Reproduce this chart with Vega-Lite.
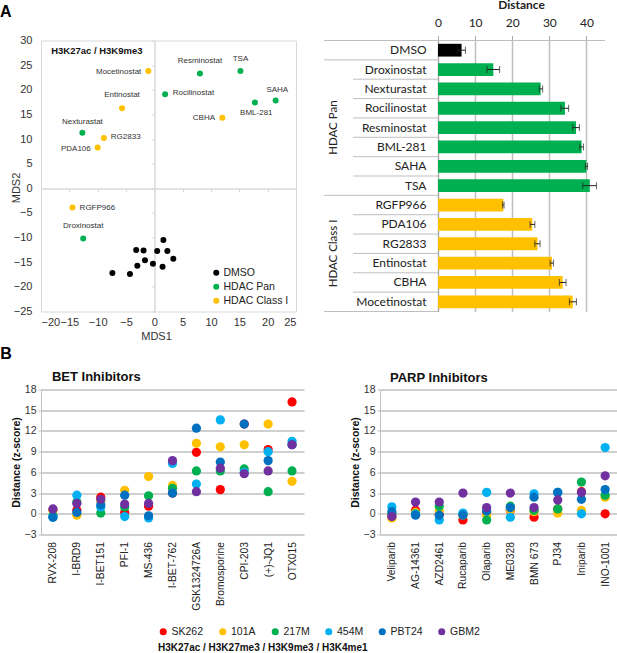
{
  "$schema": "https://vega.github.io/schema/vega-lite/v6.json",
  "autosize": "none",
  "padding": {"left": 41, "top": 40.5, "right": 576, "bottom": 612.5},
  "background": "white",
  "bounds": "flush",
  "columns": 2,
  "align": {"column": "none", "row": "each"},
  "spacing": {"row": 78, "column": 76},
  "resolve": {"scale": {"color": "independent"}, "legend": {"color": "independent"}},
  "config": {
    "font": "Liberation Sans",
    "view": {"stroke": null},
    "axis": {"labelColor": "#333333", "titleColor": "#333333"}
  },
  "datasets": {
    "mds": [
      {"name": "Mocetinostat", "group": "HDAC Class I", "MDS1": -1.05, "MDS2": 23.8},
      {"name": "Resminostat", "group": "HDAC Pan", "MDS1": 8.05, "MDS2": 23.3},
      {"name": "TSA", "group": "HDAC Pan", "MDS1": 15.2, "MDS2": 23.8},
      {"name": "Rocilinostat", "group": "HDAC Pan", "MDS1": 1.9, "MDS2": 19.1},
      {"name": "SAHA", "group": "HDAC Pan", "MDS1": 21.4, "MDS2": 17.8},
      {"name": "BML-281", "group": "HDAC Pan", "MDS1": 17.75, "MDS2": 17.4},
      {"name": "Entinostat", "group": "HDAC Class I", "MDS1": -5.7, "MDS2": 16.25},
      {"name": "CBHA", "group": "HDAC Class I", "MDS1": 12, "MDS2": 14.3},
      {"name": "Nexturastat", "group": "HDAC Pan", "MDS1": -12.7, "MDS2": 11.3},
      {"name": "RG2833", "group": "HDAC Class I", "MDS1": -8.9, "MDS2": 10.2},
      {"name": "PDA106", "group": "HDAC Class I", "MDS1": -10, "MDS2": 8.3},
      {"name": "RGFP966", "group": "HDAC Class I", "MDS1": -14.45, "MDS2": -3.9},
      {"name": "Droxinostat", "group": "HDAC Pan", "MDS1": -12.55, "MDS2": -10.2},
      {"name": "DMSO", "group": "DMSO", "MDS1": 1.6, "MDS2": -10.5},
      {"name": "DMSO", "group": "DMSO", "MDS1": -3.2, "MDS2": -12.5},
      {"name": "DMSO", "group": "DMSO", "MDS1": -1.9, "MDS2": -12.6},
      {"name": "DMSO", "group": "DMSO", "MDS1": 0.5, "MDS2": -12.7},
      {"name": "DMSO", "group": "DMSO", "MDS1": 2.3, "MDS2": -12.7},
      {"name": "DMSO", "group": "DMSO", "MDS1": 3.35, "MDS2": -14.3},
      {"name": "DMSO", "group": "DMSO", "MDS1": -1.65, "MDS2": -14.6},
      {"name": "DMSO", "group": "DMSO", "MDS1": -0.25, "MDS2": -15.3},
      {"name": "DMSO", "group": "DMSO", "MDS1": -3, "MDS2": -15.7},
      {"name": "DMSO", "group": "DMSO", "MDS1": 1.45, "MDS2": -15.9},
      {"name": "DMSO", "group": "DMSO", "MDS1": -7.4, "MDS2": -17.2},
      {"name": "DMSO", "group": "DMSO", "MDS1": -4.3, "MDS2": -17.4}
    ],
    "mdsLabels": [
      {"label": "Mocetinostat", "MDS1": -6.3, "MDS2": 23.7},
      {"label": "Resminostat", "MDS1": 8.05, "MDS2": 25.9},
      {"label": "TSA", "MDS1": 15.2, "MDS2": 26.3},
      {"label": "Rocilinostat", "MDS1": 6.9, "MDS2": 19.3},
      {"label": "SAHA", "MDS1": 21.7, "MDS2": 20},
      {"label": "BML-281", "MDS1": 18, "MDS2": 15.3},
      {"label": "Entinostat", "MDS1": -5.7, "MDS2": 18.9},
      {"label": "CBHA", "MDS1": 8.75, "MDS2": 14.3},
      {"label": "Nexturastat", "MDS1": -12.7, "MDS2": 13.5},
      {"label": "RG2833", "MDS1": -5.05, "MDS2": 10.5},
      {"label": "PDA106", "MDS1": -13.85, "MDS2": 8.05},
      {"label": "RGFP966", "MDS1": -10.05, "MDS2": -3.9},
      {"label": "Droxinostat", "MDS1": -12.55, "MDS2": -7.7}
    ],
    "distance": [
      {"drug": "DMSO", "group": "DMSO", "value": 6.35, "lo": 5.3, "hi": 7.4},
      {"drug": "Droxinostat", "group": "HDAC Pan", "value": 14.9, "lo": 13.2, "hi": 16.6},
      {"drug": "Nexturastat", "group": "HDAC Pan", "value": 27.65, "lo": 27.3, "hi": 28.2},
      {"drug": "Rocilinostat", "group": "HDAC Pan", "value": 34.2, "lo": 33.1, "hi": 35.2},
      {"drug": "Resminostat", "group": "HDAC Pan", "value": 37.2, "lo": 36.3, "hi": 38.1},
      {"drug": "BML-281", "group": "HDAC Pan", "value": 38.7, "lo": 38.2, "hi": 39.2},
      {"drug": "SAHA", "group": "HDAC Pan", "value": 40, "lo": 39.7, "hi": 40.3},
      {"drug": "TSA", "group": "HDAC Pan", "value": 40.9, "lo": 39, "hi": 42.7},
      {"drug": "RGFP966", "group": "HDAC Class I", "value": 17.6, "lo": 17.4, "hi": 17.8},
      {"drug": "PDA106", "group": "HDAC Class I", "value": 25.4, "lo": 24.8, "hi": 26.1},
      {"drug": "RG2833", "group": "HDAC Class I", "value": 26.8, "lo": 26.1, "hi": 27.5},
      {"drug": "Entinostat", "group": "HDAC Class I", "value": 30.7, "lo": 30.2, "hi": 31.1},
      {"drug": "CBHA", "group": "HDAC Class I", "value": 33.6, "lo": 32.7, "hi": 34.5},
      {"drug": "Mocetinostat", "group": "HDAC Class I", "value": 36.3, "lo": 35.4, "hi": 37.3}
    ],
    "separators": [
      {"drug": "DMSO", "from": -30.7, "to": 45},
      {"drug": "Droxinostat", "from": -30.7, "to": 0},
      {"drug": "Nexturastat", "from": -22.9, "to": 0},
      {"drug": "Rocilinostat", "from": -22.9, "to": 0},
      {"drug": "Resminostat", "from": -22.9, "to": 0},
      {"drug": "BML-281", "from": -22.9, "to": 0},
      {"drug": "SAHA", "from": -22.9, "to": 0},
      {"drug": "TSA", "from": -22.9, "to": 0},
      {"drug": "RGFP966", "from": -30.7, "to": 0},
      {"drug": "PDA106", "from": -22.9, "to": 0},
      {"drug": "RG2833", "from": -22.9, "to": 0},
      {"drug": "Entinostat", "from": -22.9, "to": 0},
      {"drug": "CBHA", "from": -22.9, "to": 0},
      {"drug": "Mocetinostat", "from": -22.9, "to": 0}
    ],
    "bet": [
      {"drug": "RVX-208", "line": "SK262", "z": 0.6}, {"drug": "RVX-208", "line": "101A", "z": 0.5}, {"drug": "RVX-208", "line": "217M", "z": -0.3}, {"drug": "RVX-208", "line": "454M", "z": -0.5}, {"drug": "RVX-208", "line": "PBT24", "z": -0.5}, {"drug": "RVX-208", "line": "GBM2", "z": 0.7},
      {"drug": "I-BRD9", "line": "SK262", "z": 0.5}, {"drug": "I-BRD9", "line": "101A", "z": -0.2}, {"drug": "I-BRD9", "line": "217M", "z": 1.7}, {"drug": "I-BRD9", "line": "454M", "z": 2.7}, {"drug": "I-BRD9", "line": "PBT24", "z": 0.2}, {"drug": "I-BRD9", "line": "GBM2", "z": 1.5},
      {"drug": "I-BET151", "line": "SK262", "z": 2.4}, {"drug": "I-BET151", "line": "101A", "z": 1.9}, {"drug": "I-BET151", "line": "217M", "z": 0.1}, {"drug": "I-BET151", "line": "454M", "z": 1}, {"drug": "I-BET151", "line": "PBT24", "z": 1.3}, {"drug": "I-BET151", "line": "GBM2", "z": 2.1},
      {"drug": "PFI-1", "line": "SK262", "z": 0.2}, {"drug": "PFI-1", "line": "101A", "z": 3.4}, {"drug": "PFI-1", "line": "217M", "z": 1}, {"drug": "PFI-1", "line": "454M", "z": -0.4}, {"drug": "PFI-1", "line": "PBT24", "z": 2.7}, {"drug": "PFI-1", "line": "GBM2", "z": 1.4},
      {"drug": "MS-436", "line": "SK262", "z": 1.1}, {"drug": "MS-436", "line": "101A", "z": 5.4}, {"drug": "MS-436", "line": "217M", "z": 2.6}, {"drug": "MS-436", "line": "454M", "z": -0.6}, {"drug": "MS-436", "line": "PBT24", "z": -0.3}, {"drug": "MS-436", "line": "GBM2", "z": 1.5},
      {"drug": "I-BET-762", "line": "SK262", "z": 3}, {"drug": "I-BET-762", "line": "101A", "z": 4.1}, {"drug": "I-BET-762", "line": "217M", "z": 3.7}, {"drug": "I-BET-762", "line": "454M", "z": 7.3}, {"drug": "I-BET-762", "line": "PBT24", "z": 3}, {"drug": "I-BET-762", "line": "GBM2", "z": 7.7},
      {"drug": "GSK1324726A", "line": "SK262", "z": 8.9}, {"drug": "GSK1324726A", "line": "101A", "z": 10.2}, {"drug": "GSK1324726A", "line": "217M", "z": 6.2}, {"drug": "GSK1324726A", "line": "454M", "z": 4.3}, {"drug": "GSK1324726A", "line": "PBT24", "z": 12.4}, {"drug": "GSK1324726A", "line": "GBM2", "z": 3.2},
      {"drug": "Bromosporine", "line": "SK262", "z": 3.5}, {"drug": "Bromosporine", "line": "101A", "z": 9.7}, {"drug": "Bromosporine", "line": "217M", "z": 6.2}, {"drug": "Bromosporine", "line": "454M", "z": 13.6}, {"drug": "Bromosporine", "line": "PBT24", "z": 7.5}, {"drug": "Bromosporine", "line": "GBM2", "z": 6.6},
      {"drug": "CPI-203", "line": "SK262", "z": 13}, {"drug": "CPI-203", "line": "101A", "z": 10}, {"drug": "CPI-203", "line": "217M", "z": 6.5}, {"drug": "CPI-203", "line": "454M", "z": 6}, {"drug": "CPI-203", "line": "PBT24", "z": 13}, {"drug": "CPI-203", "line": "GBM2", "z": 5.8},
      {"drug": "(+)-JQ1", "line": "SK262", "z": 9.3}, {"drug": "(+)-JQ1", "line": "101A", "z": 13}, {"drug": "(+)-JQ1", "line": "217M", "z": 3.2}, {"drug": "(+)-JQ1", "line": "454M", "z": 9}, {"drug": "(+)-JQ1", "line": "PBT24", "z": 7.7}, {"drug": "(+)-JQ1", "line": "GBM2", "z": 6.2},
      {"drug": "OTX015", "line": "SK262", "z": 16.2}, {"drug": "OTX015", "line": "101A", "z": 4.7}, {"drug": "OTX015", "line": "217M", "z": 6.2}, {"drug": "OTX015", "line": "454M", "z": 10.5}, {"drug": "OTX015", "line": "PBT24", "z": 10}, {"drug": "OTX015", "line": "GBM2", "z": 10}
    ],
    "parp": [
      {"drug": "Veliparib", "line": "SK262", "z": -0.4}, {"drug": "Veliparib", "line": "101A", "z": -0.6}, {"drug": "Veliparib", "line": "217M", "z": 0}, {"drug": "Veliparib", "line": "454M", "z": 1}, {"drug": "Veliparib", "line": "PBT24", "z": 0.3}, {"drug": "Veliparib", "line": "GBM2", "z": -0.4},
      {"drug": "AG-14361", "line": "SK262", "z": 0.5}, {"drug": "AG-14361", "line": "101A", "z": 0.2}, {"drug": "AG-14361", "line": "217M", "z": 0}, {"drug": "AG-14361", "line": "454M", "z": -0.1}, {"drug": "AG-14361", "line": "PBT24", "z": -0.2}, {"drug": "AG-14361", "line": "GBM2", "z": 1.7},
      {"drug": "AZD2461", "line": "SK262", "z": -0.1}, {"drug": "AZD2461", "line": "101A", "z": 0.4}, {"drug": "AZD2461", "line": "217M", "z": 1.1}, {"drug": "AZD2461", "line": "454M", "z": -0.9}, {"drug": "AZD2461", "line": "PBT24", "z": -0.2}, {"drug": "AZD2461", "line": "GBM2", "z": 1.7},
      {"drug": "Rucaparib", "line": "SK262", "z": -0.9}, {"drug": "Rucaparib", "line": "101A", "z": -0.2}, {"drug": "Rucaparib", "line": "217M", "z": 0}, {"drug": "Rucaparib", "line": "454M", "z": 0.1}, {"drug": "Rucaparib", "line": "PBT24", "z": -0.2}, {"drug": "Rucaparib", "line": "GBM2", "z": 3},
      {"drug": "Olaparib", "line": "SK262", "z": 0.2}, {"drug": "Olaparib", "line": "101A", "z": -0.2}, {"drug": "Olaparib", "line": "217M", "z": -0.9}, {"drug": "Olaparib", "line": "454M", "z": 3.1}, {"drug": "Olaparib", "line": "PBT24", "z": 0.4}, {"drug": "Olaparib", "line": "GBM2", "z": 0.9},
      {"drug": "ME0328", "line": "SK262", "z": 0.5}, {"drug": "ME0328", "line": "101A", "z": 0.6}, {"drug": "ME0328", "line": "217M", "z": 1.1}, {"drug": "ME0328", "line": "454M", "z": -0.5}, {"drug": "ME0328", "line": "PBT24", "z": 0.9}, {"drug": "ME0328", "line": "GBM2", "z": 3},
      {"drug": "BMN 673", "line": "SK262", "z": -0.5}, {"drug": "BMN 673", "line": "101A", "z": 0.3}, {"drug": "BMN 673", "line": "217M", "z": 0.5}, {"drug": "BMN 673", "line": "454M", "z": 2.9}, {"drug": "BMN 673", "line": "PBT24", "z": 2.4}, {"drug": "BMN 673", "line": "GBM2", "z": 0.9},
      {"drug": "PJ34", "line": "SK262", "z": 0.7}, {"drug": "PJ34", "line": "101A", "z": 0.1}, {"drug": "PJ34", "line": "217M", "z": 0.7}, {"drug": "PJ34", "line": "454M", "z": 3.1}, {"drug": "PJ34", "line": "PBT24", "z": 3.1}, {"drug": "PJ34", "line": "GBM2", "z": 2},
      {"drug": "Iniparib", "line": "SK262", "z": 3.2}, {"drug": "Iniparib", "line": "101A", "z": 0.5}, {"drug": "Iniparib", "line": "217M", "z": 4.6}, {"drug": "Iniparib", "line": "454M", "z": 0}, {"drug": "Iniparib", "line": "PBT24", "z": 2.1}, {"drug": "Iniparib", "line": "GBM2", "z": 3.1},
      {"drug": "INO-1001", "line": "SK262", "z": 0}, {"drug": "INO-1001", "line": "101A", "z": 2.4}, {"drug": "INO-1001", "line": "217M", "z": 2.7}, {"drug": "INO-1001", "line": "454M", "z": 9.6}, {"drug": "INO-1001", "line": "PBT24", "z": 3.5}, {"drug": "INO-1001", "line": "GBM2", "z": 5.5}
    ]
  },
  "concat": [
    {
      "width": 255,
      "height": 271,
      "view": {"stroke": "#d9d9d9"},
      "resolve": {"axis": {"x": "independent", "y": "independent"}},
      "layer": [
        {
          "data": {"name": "mds"},
          "mark": {"type": "circle", "opacity": 0},
          "encoding": {
            "x": {"field": "MDS1", "type": "quantitative", "scale": {"domain": [-20, 25], "nice": false},
              "axis": {"orient": "bottom", "offset": -123, "labels": false, "title": null, "grid": false, "values": [-20, -15, -10, -5, 0, 5, 10, 15, 20, 25], "domainColor": "#d9d9d9", "domainWidth": 1.5, "tickColor": "#d9d9d9", "tickSize": 3}},
            "y": {"field": "MDS2", "type": "quantitative", "scale": {"domain": [-25, 30], "nice": false},
              "axis": {"orient": "left", "offset": -113.5, "labels": false, "title": null, "grid": false, "values": [-25, -20, -15, -10, -5, 0, 5, 10, 15, 20, 25, 30], "domainColor": "#d9d9d9", "domainWidth": 1.5, "tickColor": "#d9d9d9", "tickSize": 3}}
          }
        },
        {
          "data": {"name": "mds"},
          "mark": {"type": "circle", "opacity": 1, "size": 36},
          "encoding": {
            "x": {"field": "MDS1", "type": "quantitative",
              "axis": {"orient": "bottom", "title": "MDS1", "titleX": 115, "titleY": 19, "titleFontWeight": "normal", "titleFontSize": 11, "labelFontSize": 11, "labelPadding": 5, "values": [-20, -15, -10, -5, 0, 5, 10, 15, 20, 25], "ticks": false, "domain": false, "grid": false}},
            "y": {"field": "MDS2", "type": "quantitative",
              "axis": {"orient": "left", "title": "MDS2", "titleX": -20, "titleY": 147, "titleFontWeight": "normal", "titleFontSize": 11, "labelFontSize": 11, "labelPadding": 9, "values": [-25, -20, -15, -10, -5, 0, 5, 10, 15, 20, 25, 30], "ticks": false, "domain": false, "grid": false}},
            "color": {"field": "group", "type": "nominal",
              "scale": {"domain": ["DMSO", "HDAC Pan", "HDAC Class I"], "range": ["#000000", "#00b050", "#ffc000"]},
              "legend": {"title": null, "orient": "none", "legendX": 170, "legendY": 227, "symbolSize": 36, "symbolType": "circle", "labelFontSize": 10.5, "labelColor": "#222222", "rowPadding": 3, "labelOffset": 2, "padding": 0}}
          }
        },
        {
          "data": {"name": "mdsLabels"},
          "mark": {"type": "text", "fontSize": 8, "color": "#333333"},
          "encoding": {
            "x": {"field": "MDS1", "type": "quantitative", "axis": null},
            "y": {"field": "MDS2", "type": "quantitative", "axis": null},
            "text": {"field": "label"}
          }
        },
        {
          "data": {"values": [{"label": "H3K27ac / H3K9me3", "MDS1": -10.15, "MDS2": 27.95}]},
          "mark": {"type": "text", "fontSize": 9.5, "fontWeight": "bold", "color": "#111111"},
          "encoding": {
            "x": {"field": "MDS1", "type": "quantitative", "axis": null},
            "y": {"field": "MDS2", "type": "quantitative", "axis": null},
            "text": {"field": "label"}
          }
        },
        {
          "data": {"values": [{"label": "A", "MDS1": -26.2, "MDS2": 35.7}]},
          "mark": {"type": "text", "fontSize": 16, "fontWeight": "bold", "color": "black"},
          "encoding": {
            "x": {"field": "MDS1", "type": "quantitative", "axis": null},
            "y": {"field": "MDS2", "type": "quantitative", "axis": null},
            "text": {"field": "label"}
          }
        }
      ]
    },
    {
      "width": 225,
      "height": 271,
      "resolve": {"axis": {"x": "independent", "y": "independent"}},
      "layer": [
        {
          "data": {"name": "distance"},
          "mark": {"type": "bar", "height": {"band": 0.66}},
          "encoding": {
            "x": {"field": "value", "type": "quantitative", "scale": {"domain": [-15.63, 45], "nice": false},
              "axis": {"orient": "top", "title": "Distance", "titleX": 141, "titleY": -29.5, "titleFont": "Lato", "titleFontSize": 12, "titleFontWeight": "bold", "titleColor": "#222222", "labelFont": "Lato", "labelFontSize": 12, "labelColor": "#222222", "labelPadding": 6, "values": [0, 10, 20, 30, 40], "grid": true, "gridColor": "#bfbfbf", "gridWidth": 1.5, "domain": false, "tickColor": "#a6a6a6", "tickSize": 5}},
            "y": {"field": "drug", "type": "nominal", "sort": null, "scale": {"paddingInner": 0, "paddingOuter": 0},
              "axis": {"orient": "left", "offset": -58, "title": null, "labelFont": "Lato", "labelFontSize": 12, "labelColor": "#222222", "labelPadding": 12, "ticks": false, "domain": true, "domainColor": "#a6a6a6", "domainWidth": 1, "grid": false}},
            "color": {"field": "group", "type": "nominal", "legend": null,
              "scale": {"domain": ["DMSO", "HDAC Pan", "HDAC Class I"], "range": ["#000000", "#00b050", "#ffc000"]}}
          }
        },
        {
          "data": {"name": "distance"},
          "mark": {"type": "errorbar", "color": "#222222", "ticks": {"size": 7, "color": "#222222"}},
          "encoding": {
            "x": {"field": "lo", "type": "quantitative", "axis": null},
            "x2": {"field": "hi"},
            "y": {"field": "drug", "type": "nominal", "sort": null, "axis": null}
          }
        },
        {
          "data": {"name": "separators"},
          "mark": {"type": "rule", "color": "#bfbfbf", "strokeWidth": 1},
          "encoding": {
            "x": {"field": "from", "type": "quantitative", "axis": null},
            "x2": {"field": "to"},
            "y": {"field": "drug", "type": "nominal", "sort": null, "bandPosition": 0, "axis": null}
          }
        },
        {
          "data": {"values": [{"drug": "Mocetinostat", "from": -30.7, "to": 0}]},
          "mark": {"type": "rule", "color": "#bfbfbf", "strokeWidth": 1},
          "encoding": {
            "x": {"field": "from", "type": "quantitative", "axis": null},
            "x2": {"field": "to"},
            "y": {"field": "drug", "type": "nominal", "sort": null, "bandPosition": 1, "axis": null}
          }
        },
        {
          "data": {"values": [{"label": "HDAC Pan", "drug": "Resminostat", "at": -28}]},
          "mark": {"type": "text", "angle": 270, "font": "Lato", "fontSize": 11.5, "color": "#222222"},
          "encoding": {
            "x": {"field": "at", "type": "quantitative", "axis": null},
            "y": {"field": "drug", "type": "nominal", "sort": null, "axis": null},
            "text": {"field": "label"}
          }
        },
        {
          "data": {"values": [{"label": "HDAC Class I", "drug": "Entinostat", "at": -28}]},
          "mark": {"type": "text", "angle": 270, "font": "Lato", "fontSize": 11.5, "color": "#222222"},
          "encoding": {
            "x": {"field": "at", "type": "quantitative", "axis": null},
            "y": {"field": "drug", "type": "nominal", "sort": null, "bandPosition": 0, "axis": null},
            "text": {"field": "label"}
          }
        }
      ]
    },
    {
      "width": 263,
      "height": 145,
      "resolve": {"axis": {"x": "independent", "y": "independent"}},
      "layer": [
        {
          "data": {"name": "bet"},
          "mark": {"type": "circle", "opacity": 1, "size": 85},
          "encoding": {
            "x": {"field": "drug", "type": "nominal", "sort": null, "scale": {"paddingInner": 0, "paddingOuter": 0},
              "axis": {"orient": "bottom", "title": null, "labelAngle": 270, "labelFontSize": 10.3, "labelColor": "#222222", "labelPadding": 7, "ticks": false, "domain": false, "labelAlign": "right", "labelBaseline": "middle"}},
            "y": {"field": "z", "type": "quantitative", "scale": {"domain": [-3, 18], "nice": false},
              "axis": {"orient": "left", "title": "Distance (z-score)", "titleFontSize": 10.5, "titleFontWeight": "bold", "titleColor": "#111111", "titlePadding": 3, "labelFontSize": 10.5, "labelPadding": 2, "values": [-3, 0, 3, 6, 9, 12, 15, 18], "grid": true, "gridColor": "#bfbfbf", "gridWidth": 1.5, "domain": true, "domainColor": "#bfbfbf", "tickColor": "#bfbfbf", "tickSize": 3}},
            "color": {"field": "line", "type": "nominal",
              "scale": {"domain": ["SK262", "101A", "217M", "454M", "PBT24", "GBM2"], "range": ["#ff0000", "#ffc000", "#00b050", "#00b0f0", "#0070c0", "#7030a0"]},
              "legend": {"title": "H3K27ac / H3K27me3 / H3K9me3 / H3K4me1", "titleOrient": "bottom", "titleAnchor": "start", "titleLimit": 400, "titleFontSize": 10, "titleFontWeight": "bold", "titleColor": "#111111", "titlePadding": 5, "orient": "none", "direction": "horizontal", "legendX": 117, "legendY": 237, "columns": 6, "gridAlign": "none", "columnPadding": 13.5, "symbolType": "circle", "symbolSize": 50, "labelFontSize": 10.5, "labelColor": "#222222", "labelOffset": 3, "padding": 0}}
          }
        },
        {
          "data": {"values": [{"label": "B", "drug": "RVX-208", "z": 23.1}]},
          "mark": {"type": "text", "dx": -47, "fontSize": 16, "fontWeight": "bold", "color": "black"},
          "encoding": {
            "x": {"field": "drug", "type": "nominal", "sort": null, "axis": null},
            "y": {"field": "z", "type": "quantitative", "axis": null},
            "text": {"field": "label"}
          }
        },
        {
          "data": {"values": [{"label": "BET Inhibitors", "drug": "RVX-208", "z": 19.74}]},
          "mark": {"type": "text", "align": "left", "dx": -1, "fontSize": 13, "fontWeight": "bold", "color": "#111111"},
          "encoding": {
            "x": {"field": "drug", "type": "nominal", "sort": null, "axis": null},
            "y": {"field": "z", "type": "quantitative", "axis": null},
            "text": {"field": "label"}
          }
        }
      ]
    },
    {
      "width": 237,
      "height": 145,
      "title": {"text": "PARP Inhibitors", "anchor": "start", "frame": "group", "dx": 10, "offset": 0, "fontSize": 13, "fontWeight": "bold", "color": "#111111"},
      "data": {"name": "parp"},
      "mark": {"type": "circle", "opacity": 1, "size": 85},
      "encoding": {
        "x": {"field": "drug", "type": "nominal", "sort": null, "scale": {"paddingInner": 0, "paddingOuter": 0},
          "axis": {"title": null, "labelAngle": 270, "labelFontSize": 10.3, "labelColor": "#222222", "labelPadding": 7, "ticks": false, "domain": false, "labelAlign": "right", "labelBaseline": "middle"}},
        "y": {"field": "z", "type": "quantitative", "scale": {"domain": [-3, 18], "nice": false},
          "axis": {"title": "Distance (z-score)", "titleFontSize": 10.5, "titleFontWeight": "bold", "titleColor": "#111111", "titlePadding": 3, "labelFontSize": 10.5, "labelPadding": 2, "values": [-3, 0, 3, 6, 9, 12, 15, 18], "grid": true, "gridColor": "#bfbfbf", "gridWidth": 1.5, "domain": true, "domainColor": "#bfbfbf", "tickColor": "#bfbfbf", "tickSize": 3}},
        "color": {"field": "line", "type": "nominal", "legend": null,
          "scale": {"domain": ["SK262", "101A", "217M", "454M", "PBT24", "GBM2"], "range": ["#ff0000", "#ffc000", "#00b050", "#00b0f0", "#0070c0", "#7030a0"]}}
      }
    }
  ]
}
